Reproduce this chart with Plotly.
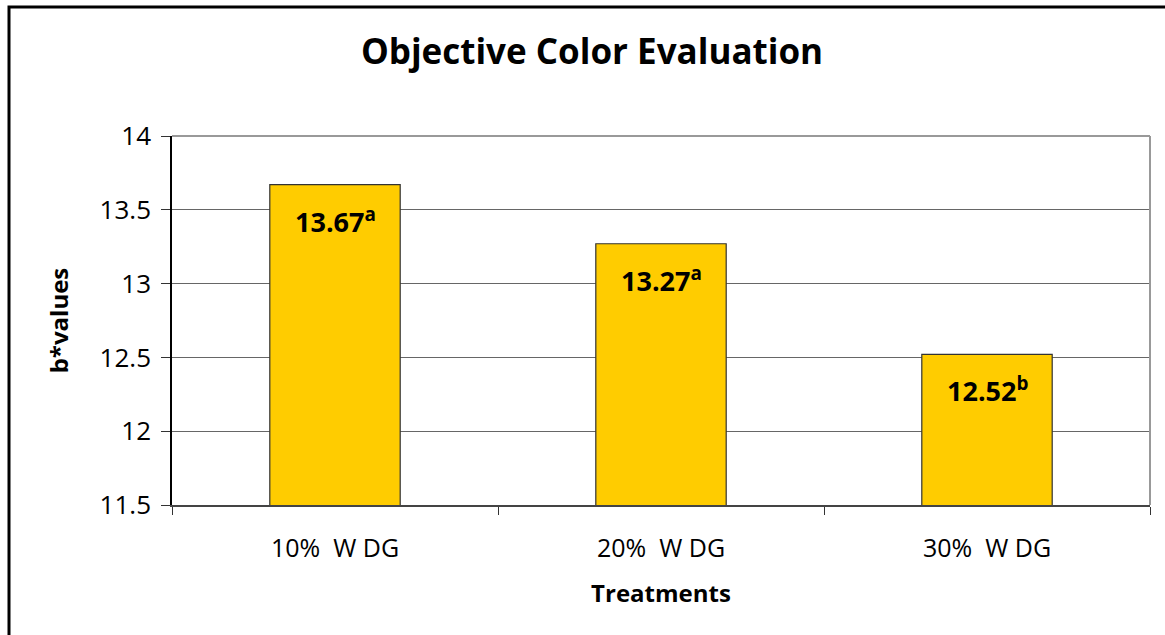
import plotly.graph_objects as go

categories = ["10%\u00a0\u00a0W\u00a0DG", "20%\u00a0\u00a0W\u00a0DG", "30%\u00a0\u00a0W\u00a0DG"]
values = [13.67, 13.27, 12.52]
letters = ["a", "a", "b"]
y_ticks = [11.5, 12, 12.5, 13, 13.5, 14]
y_tick_labels = ["11.5", "12", "12.5", "13", "13.5", "14"]

W, H = 1165, 635
L, R, T, B = 172, 15, 136, 130
pw, ph = W - L - R, H - T - B

FONT = "Open Sans"

fig = go.Figure()
fig.add_trace(go.Bar(
    x=categories, y=values, width=0.4,
    marker=dict(color="#FFCC00", line=dict(color="#333333", width=1.2)),
    hoverinfo="skip",
))

for c, v, l in zip(categories, values, letters):
    fig.add_annotation(
        x=c, y=v, xref="x", yref="y", yanchor="top", yshift=-14,
        text=f"<b>{v:.2f}<sup>{l}</sup></b>", showarrow=False,
        font=dict(family=FONT, size=27, color="black"),
    )

# outer chart border
fig.add_shape(type="rect", xref="paper", yref="paper",
              x0=(9 - L) / pw, x1=(W + 10 - L) / pw,
              y0=(H - B - (H + 10)) / ph, y1=(H - B - 7) / ph,
              line=dict(color="black", width=3), layer="above")
# plot area border top/right (gray)
fig.add_shape(type="line", xref="paper", yref="paper", x0=0, x1=1, y0=1, y1=1,
              line=dict(color="#999999", width=2))
fig.add_shape(type="line", xref="paper", yref="paper", x0=1, x1=1, y0=0, y1=1,
              line=dict(color="#999999", width=2))

fig.update_layout(
    width=W, height=H,
    margin=dict(l=L, r=R, t=T, b=B),
    paper_bgcolor="white", plot_bgcolor="white",
    showlegend=False,
    title=dict(text="<b>Objective Color Evaluation</b>", x=592 / W, xanchor="center",
               y=1 - 52 / H, yanchor="middle",
               font=dict(family=FONT, size=35, color="black")),
    xaxis=dict(
        type="category", tickson="boundaries", ticks="outside", ticklen=8,
        tickcolor="#333333", showline=True, linecolor="#444444", linewidth=2,
        showgrid=False, tickfont=dict(family=FONT, size=25, color="black"),
        ticklabelstandoff=20,
        title=dict(text="<b>Treatments</b>", font=dict(family=FONT, size=24, color="black"),
                   standoff=22),
    ),
    yaxis=dict(
        range=[11.5, 14], tickvals=y_ticks, ticktext=y_tick_labels,
        ticks="outside", ticklen=9, tickcolor="#333333",
        showline=True, linecolor="black", linewidth=1.5,
        showgrid=True, gridcolor="#666666", gridwidth=1, zeroline=False,
        tickfont=dict(family=FONT, size=26, color="black"),
        ticklabelstandoff=5,
        title=dict(text="<b>b*values</b>", font=dict(family=FONT, size=24, color="black"),
                   standoff=24),
    ),
    bargap=0.6,
)

fig.write_html("out.html", config={"displayModeBar": False},
               post_script="document.body.style.margin='0';document.body.style.overflow='hidden';")
